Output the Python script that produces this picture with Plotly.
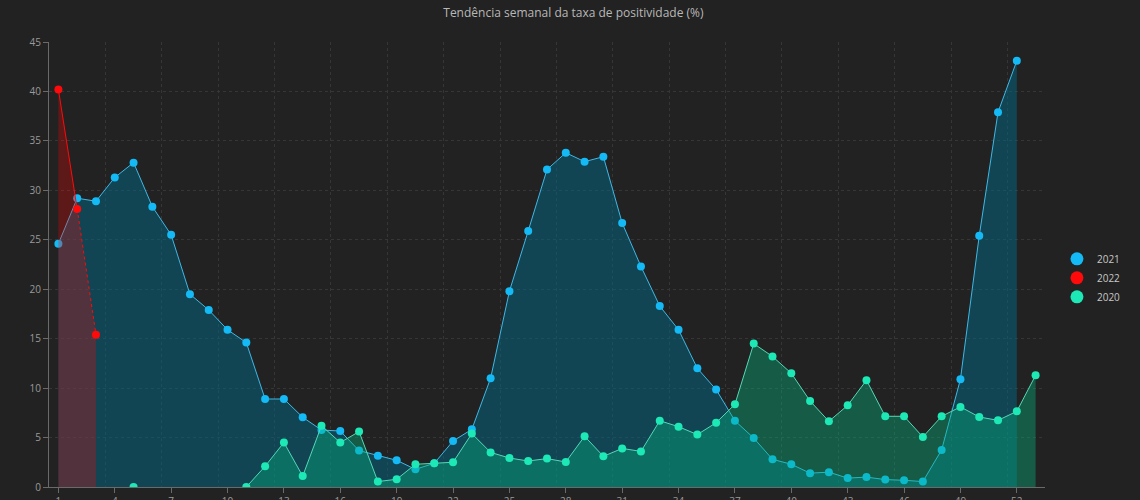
import plotly.graph_objects as go

weeks = list(range(1, 54))
weeks_2021 = list(range(1, 53))
weeks_2022 = [1, 2, 3]

v2021 = [24.6, 29.2, 28.9, 31.3, 32.8, 28.35, 25.5, 19.5, 17.9, 15.9, 14.6,
         8.9, 8.9, 7.05, 5.76, 5.66, 3.68, 3.17, 2.7, 1.79, 2.4, 4.65, 5.83,
         11.0, 19.8, 25.9, 32.1, 33.8, 32.9, 33.4, 26.7, 22.3, 18.3, 15.9, 12.0, 9.85,
         6.7, 4.95, 2.8, 2.3, 1.4, 1.5, 0.9, 1.0, 0.75, 0.68, 0.55, 3.75, 10.9, 25.4, 37.9, 43.1]

v2022 = [40.2, 28.1, 15.4]

v2020 = [None, None, None, None, 0, None, None, None, None, None, 0,
         2.1, 4.5, 1.1, 6.2, 4.5, 5.6, 0.55, 0.78, 2.3, 2.4, 2.5, 5.4,
         3.5, 2.93, 2.63, 2.87, 2.53, 5.13, 3.1, 3.9, 3.6, 6.7, 6.1, 5.3, 6.5,
         8.36, 14.5, 13.2, 11.5, 8.7, 6.64, 8.26, 10.8, 7.15, 7.15, 5.06, 7.15,
         8.1, 7.08, 6.74, 7.65, 11.3]

x_ticks = list(range(1, 54, 3))
y_ticks = list(range(0, 46, 5))

BLUE = "#14baf5"
BLUE_LINE = "#3fb8e6"
RED = "#ff0a0a"
GREEN = "#1de9b6"
GREEN_LINE = "#55d8b8"

fig = go.Figure()

# 2021
fig.add_trace(go.Scatter(
    x=weeks_2021, y=v2021, mode="lines+markers", name="2021", showlegend=False,
    line=dict(color=BLUE_LINE, width=1), marker=dict(color=BLUE, size=8),
    fill="tozeroy", fillcolor="rgba(0,108,138,0.47)", hoverinfo="x+y"))

# 2022 fill + markers
fig.add_trace(go.Scatter(
    x=weeks_2022, y=v2022, mode="markers", name="2022", showlegend=False,
    marker=dict(color=RED, size=8),
    fill="tozeroy", fillcolor="rgba(255,0,0,0.27)", hoverinfo="x+y"))
fig.add_trace(go.Scatter(
    x=weeks_2022[:2], y=v2022[:2], mode="lines", showlegend=False,
    line=dict(color=RED, width=1), hoverinfo="skip"))
fig.add_trace(go.Scatter(
    x=weeks_2022[1:], y=v2022[1:], mode="lines", showlegend=False,
    line=dict(color=RED, width=1, dash="dot"), hoverinfo="skip"))

# 2020
fig.add_trace(go.Scatter(
    x=weeks, y=v2020, mode="lines+markers", name="2020", showlegend=False,
    line=dict(color=GREEN_LINE, width=1), marker=dict(color=GREEN, size=8),
    fill="tozeroy", fillcolor="rgba(0,185,125,0.38)", connectgaps=False,
    hoverinfo="x+y"))

# legend entries (big symbols)
for nm, col in [("2021", BLUE), ("2022", RED), ("2020", GREEN)]:
    fig.add_trace(go.Scatter(
        x=[None], y=[None], mode="markers", name=nm,
        marker=dict(color=col, size=13), showlegend=True))

GRID = "#363636"

fig.update_layout(
    width=1140, height=500,
    paper_bgcolor="#222222", plot_bgcolor="#222222",
    margin=dict(l=49, r=95, t=42, b=13),
    title=dict(text="Tendência semanal da taxa de positividade (%)",
               x=0.503, xanchor="center", y=0.974, yanchor="middle",
               font=dict(family="Open Sans, sans-serif", size=12, color="#b8b8b8")),
    font=dict(family="Open Sans, sans-serif", size=10, color="#9a9a9a"),
    showlegend=True,
    legend=dict(x=1.012, xanchor="left", y=0.47, yanchor="middle",
                font=dict(size=10, color="#c8c8c8"), itemwidth=30,
                bgcolor="rgba(0,0,0,0)", tracegroupgap=4),
    xaxis=dict(range=[0.5, 53.5], tickmode="array", tickvals=x_ticks,
               ticktext=[str(t) for t in x_ticks],
               showgrid=False, zeroline=False,
               showline=True, linecolor="#6a6a6a", linewidth=1,
               ticks="outside", ticklen=5, tickcolor="#6a6a6a",
               tickfont=dict(size=10, color="#9a9a9a"), automargin=False,
               minor=dict(tick0=0.5, dtick=3, showgrid=True,
                          gridcolor=GRID, griddash="3px,3px", gridwidth=1)),
    yaxis=dict(range=[0, 45], tickmode="array", tickvals=y_ticks,
               showgrid=True, gridcolor=GRID, griddash="3px,3px", gridwidth=1,
               zeroline=False, showline=True, linecolor="#6a6a6a", linewidth=1,
               ticks="outside", ticklen=5, tickcolor="#6a6a6a",
               tickfont=dict(size=10, color="#9a9a9a"), automargin=False),
)

fig.write_html("out.html")
